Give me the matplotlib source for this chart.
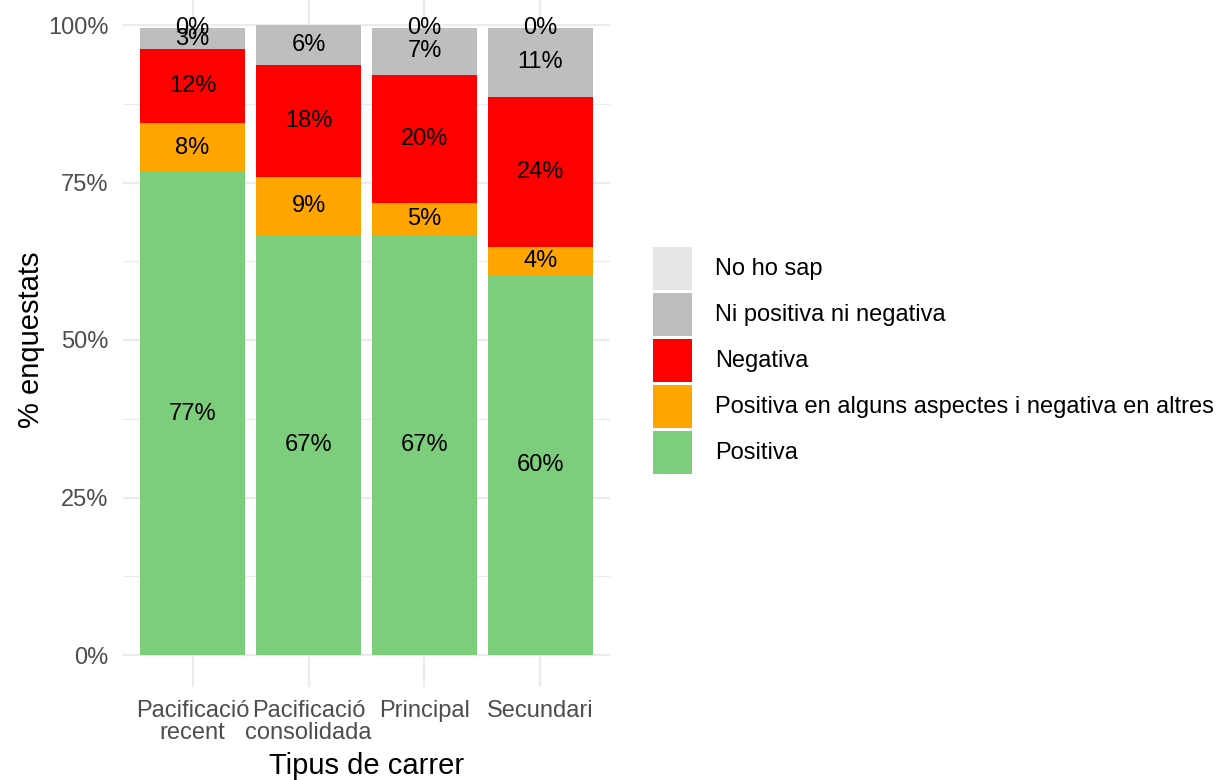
import matplotlib
matplotlib.use('Agg')
import matplotlib.pyplot as plt
import numpy as np
from matplotlib.patches import Rectangle

plt.rcParams['font.family'] = ['Liberation Sans', 'DejaVu Sans']

categories = ['Pacificació\nrecent', 'Pacificació\nconsolidada', 'Principal', 'Secundari']
series_names = ['Positiva',
                'Positiva en alguns aspectes i negativa en altres',
                'Negativa',
                'Ni positiva ni negativa',
                'No ho sap']
positiva = [76.6, 66.7, 66.6, 60.3]
parcial = [7.9, 9.1, 5.2, 4.4]
negativa = [11.7, 17.9, 20.3, 23.9]
ni_pos_ni_neg = [3.3, 6.3, 7.4, 10.9]
no_ho_sap = [0.0, np.nan, 0.0, 0.0]
colors = ['#7CCD7C', '#FFA500', '#FF0000', '#BEBEBE', '#E5E5E5']
yticks = [0, 25, 50, 75, 100]
ytick_labels = ['0%', '25%', '50%', '75%', '100%']

series = [positiva, parcial, negativa, ni_pos_ni_neg, no_ho_sap]

W, H = 1222, 780
fig = plt.figure(figsize=(W / 100, H / 100), dpi=100)
ax = fig.add_axes([123 / W, (H - 686.5) / H, 487 / W, 693 / H])
ax.set_xlim(-0.6, len(categories) - 0.4)
ax.set_ylim(-5, 105)

grid_c = '#EBEBEB'
for yv in [12.5, 37.5, 62.5, 87.5]:
    ax.axhline(yv, color=grid_c, lw=0.8, zorder=0)
for yv in yticks:
    ax.axhline(yv, color=grid_c, lw=1.6, zorder=0)
x = np.arange(len(categories))
for xv in x:
    ax.axvline(xv, color=grid_c, lw=1.6, zorder=0)

bottom = np.zeros(len(categories))
for vals, col in zip(series, colors):
    v = np.array(vals, dtype=float)
    mask = ~np.isnan(v)
    ax.bar(x[mask], v[mask], width=0.9, bottom=bottom[mask], color=col,
           edgecolor='none', zorder=2)
    for i in np.where(mask)[0]:
        ax.text(x[i], bottom[i] + v[i] / 2, f"{round(v[i]):d}%",
                ha='center', va='center', fontsize=17, color='black', zorder=3)
    bottom[mask] += v[mask]

for s in ax.spines.values():
    s.set_visible(False)
ax.set_yticks(yticks)
ax.set_yticklabels(ytick_labels)
ax.set_xticks(x)
ax.set_xticklabels(categories, linespacing=1.0)
ax.tick_params(axis='both', length=0, labelsize=17, labelcolor='#4D4D4D')
ax.tick_params(axis='y', pad=10.5)
ax.tick_params(axis='x', pad=9.5)

ax.set_xlabel('Tipus de carrer', fontsize=21, color='black')
ax.set_ylabel('% enquestats', fontsize=21, color='black')
ax.xaxis.set_label_coords(0.5, (686.5 - 766) / 693)
ax.xaxis.label.set_va('center')
ax.yaxis.set_label_coords((31 - 123) / 487, 0.5)
ax.yaxis.label.set_va('center')

# legend (ggplot-style, reversed order)
key_x, key_w, key_h, key_step, key_top = 653, 39, 43, 46, 247
for j, (name, col) in enumerate(zip(series_names[::-1], colors[::-1])):
    top = key_top + j * key_step
    fig.add_artist(Rectangle((key_x / W, 1 - (top + key_h) / H), key_w / W, key_h / H,
                             transform=fig.transFigure, facecolor=col,
                             edgecolor='none'))
    fig.text(715 / W, 1 - (top + key_h / 2) / H, name, fontsize=17,
             ha='left', va='center', color='black')

fig.savefig('out.png', dpi=100)
